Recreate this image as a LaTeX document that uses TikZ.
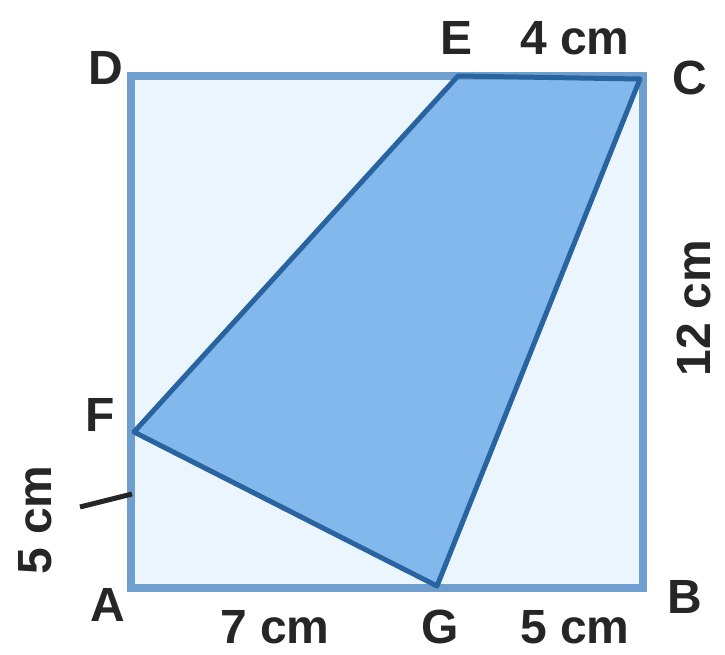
\documentclass[tikz,border=0pt]{standalone}
\usepackage{fontspec}
\setmainfont{Liberation Sans}
\definecolor{sqfill}{HTML}{EAF5FD}
\definecolor{sqedge}{HTML}{6E9FCF}
\definecolor{qfill}{HTML}{82B8EC}
\definecolor{qedge}{HTML}{2A64A0}
\begin{document}
\begin{tikzpicture}[x=1pt,y=-1pt,
  lbl/.style={font=\bfseries\fontsize{48}{48}\selectfont, text=black!85, inner sep=0pt},
  pt/.style={inner sep=0pt, minimum size=0pt}]
\useasboundingbox (0,0) rectangle (725,655);
\coordinate (A) at (131,588);
\coordinate (B) at (643,588);
\coordinate (C) at (640,79);
\coordinate (D) at (131,76);
\coordinate (E) at (458,76);
\coordinate (F) at (134,432);
\coordinate (G) at (437,586);
\coordinate (Cc) at (643,76);
% square
\fill[sqfill] (A) rectangle (Cc);
% shaded quadrilateral
\fill[qfill] (E) -- (C) -- (G) -- (F) -- cycle;
\draw[sqedge, line width=8pt] (A) rectangle (Cc);
\draw[qedge, line width=5pt, line join=round] (E) -- (C) -- (G) -- (F) -- cycle;
% leader tick
\coordinate (T1) at (80,507);
\coordinate (T2) at (132,494);
\draw[black!85, line width=5pt] (T1) -- (T2);
% labels
\node[lbl] (lD) at (106,68) {D};
\node[lbl] (lE) at (457,38) {E};
\node[lbl] (l4) at (575,38) {4 cm};
\node[lbl] (lC) at (690,78) {C};
\node[lbl, rotate=90] (l12) at (694,308) {12 cm};
\node[lbl] (lF) at (100,415) {F};
\node[lbl, rotate=90] (l5a) at (35,520) {5 cm};
\node[lbl] (lA) at (108,605) {A};
\node[lbl] (l7) at (275,627) {7 cm};
\node[lbl] (lG) at (440,627) {G};
\node[lbl] (l5b) at (575,627) {5 cm};
\node[lbl] (lB) at (685,597) {B};
\end{tikzpicture}
\end{document}
